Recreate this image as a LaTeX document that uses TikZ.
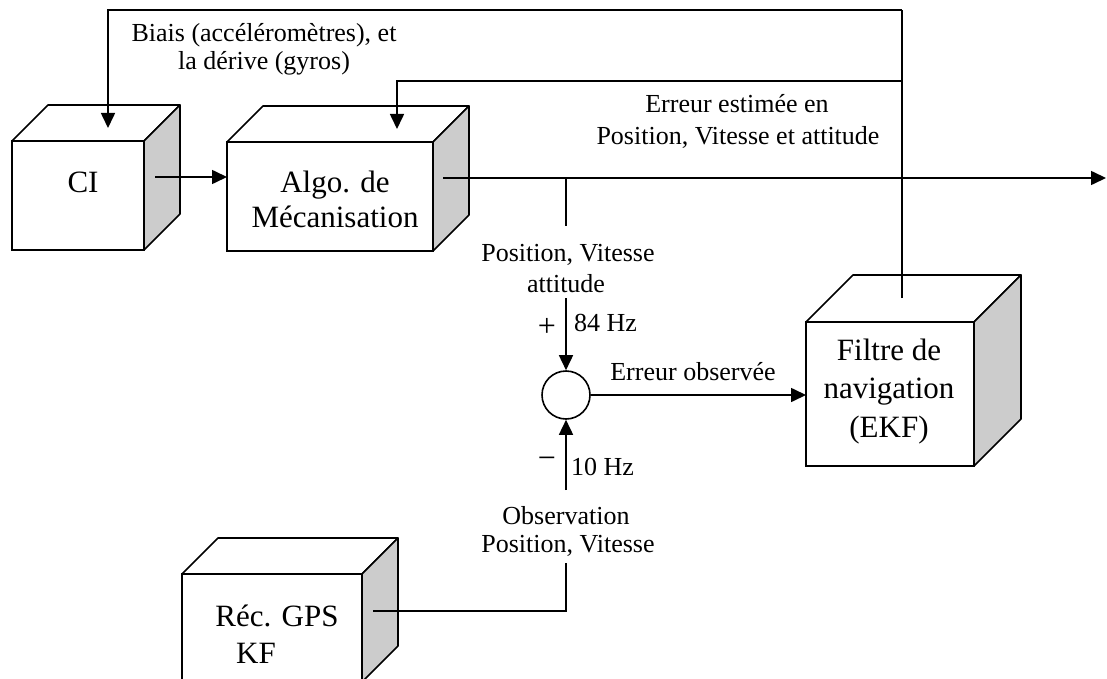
\documentclass[tikz,border=0pt]{standalone}
\usepackage{fontspec}
\setmainfont{Liberation Serif}
\usetikzlibrary{calc,arrows.meta}
\definecolor{sidegray}{RGB}{204,204,204}
\tikzset{
  wire/.style={line width=1.6pt},
  arr/.style={wire,-{Triangle[length=15pt,width=14pt]}},
  face/.style={draw,line width=1.6pt,fill=white,rectangle,inner sep=0pt,outer sep=0pt},
  lbl/.style={font=\fontsize{26}{32}\selectfont,inner sep=0pt,anchor=base},
  signlbl/.style={font=\fontsize{32}{32}\selectfont,inner sep=0pt,anchor=center},
  boxtxt/.style={font=\fontsize{31}{36}\selectfont,inner sep=0pt,anchor=base},
  sumnode/.style={draw,circle,line width=1.6pt,minimum size=48pt,inner sep=0pt}
}
\newcommand{\cubesides}[2]{%
  \draw[line width=1.6pt,fill=white,line join=round] (#1.north west) -- ++(#2,-#2) -- ($(#1.north east)+(#2,-#2)$) -- (#1.north east) -- cycle;
  \draw[line width=1.6pt,fill=sidegray,line join=round] (#1.north east) -- ++(#2,-#2) -- ($(#1.south east)+(#2,-#2)$) -- (#1.south east) -- cycle;
}
\begin{document}
\begin{tikzpicture}[x=1pt,y=-1pt]
\clip (0,0) rectangle (1107,679);
\fill[white] (0,0) rectangle (1107,679);

% boxes
\node[face,minimum width=132pt,minimum height=109pt] (ci) at (78,195.5) {};
\cubesides{ci}{36}
\node[face,minimum width=206pt,minimum height=109pt] (algo) at (330,196.5) {};
\cubesides{algo}{36}
\node[face,minimum width=168pt,minimum height=144pt] (filt) at (890,394) {};
\cubesides{filt}{47}
\node[face,minimum width=180pt,minimum height=108pt] (gps) at (272,628) {};
\cubesides{gps}{36}
\node[sumnode] (sum) at (566,395) {};

% box texts
\node[boxtxt] (ciT) at (83,192) {CI};
\node[boxtxt] (algoT1) at (335,192) {Algo. de};
\node[boxtxt] (algoT2) at (335,227) {Mécanisation};
\node[boxtxt] (filtT1) at (889,360) {Filtre de};
\node[boxtxt] (filtT2) at (889,398) {navigation};
\node[boxtxt] (filtT3) at (889,437) {(EKF)};
\node[boxtxt] (gpsT1) at (277,626) {Réc. GPS};
\node[boxtxt] (gpsT2) at (256,663) {KF};

% labels
\node[lbl] (l1a) at (264,42) {Biais (accéléromètres), et};
\node[lbl] (l1b) at (264,70) {la dérive (gyros)};
\node[lbl] (l2a) at (737,113) {Erreur estimée en};
\node[lbl] (l2b) at (738,145) {Position, Vitesse et attitude};
\node[lbl] (l3a) at (568,261) {Position, Vitesse};
\node[lbl] (l3b) at (566,292) {attitude};
\node[signlbl] (plus) at (547,327) {+};
\node[lbl,anchor=base west] (f84) at (574,331) {84 Hz};
\node[lbl] (l4) at (693,380) {Erreur observée};
\node[signlbl] (minus) at (547,463) {\char"2212};
\node[lbl,anchor=base west] (f10) at (571,475) {10 Hz};
\node[lbl] (l5a) at (566,524) {Observation};
\node[lbl] (l5b) at (568,552) {Position, Vitesse};

% coordinates
\coordinate (fb) at (902,298);
\coordinate (topR) at (902,10);
\coordinate (midR) at (902,81);
\coordinate (ciIn) at (108,128);
\coordinate (algoIn) at (397,129);
\coordinate (ciOut) at (155,177);
\coordinate (algoOut) at (443,178);
\coordinate (outEnd) at (1106,178);
\coordinate (tap) at (566,178);
\coordinate (tapEnd) at (566,226);
\coordinate (insStart) at (566,298);
\coordinate (gpsStart) at (566,490);
\coordinate (gpsOut) at (373,611);
\coordinate (gpsEnd) at (566,563);

% connectors
\draw[wire] (fb) -- (topR);
\draw[arr] (topR) -| (ciIn);
\draw[arr] (midR) -| (algoIn);
\draw[arr] (ciOut) -- (ciOut -| algo.west);
\draw[arr] (algoOut) -- (outEnd);
\draw[wire] (tap) -- (tapEnd);
\draw[arr] (insStart) -- (sum.north);
\draw[arr] (gpsStart) -- (sum.south);
\draw[arr] (sum.east) -- (sum.east -| filt.west);
\draw[wire] (gpsOut) -| (gpsEnd);
\end{tikzpicture}
\end{document}
